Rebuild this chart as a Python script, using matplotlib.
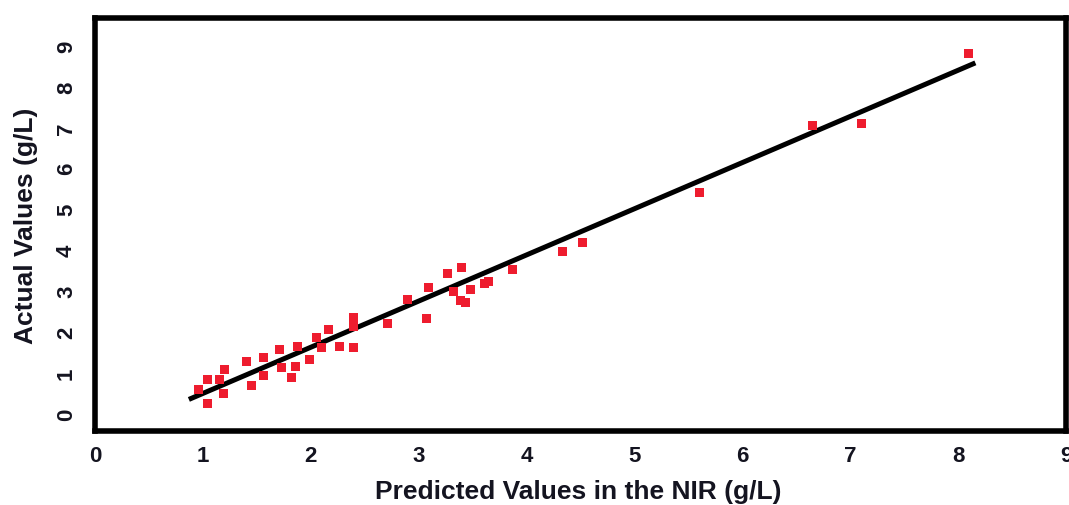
import matplotlib
matplotlib.use("Agg")
import matplotlib.pyplot as plt
import numpy as np

# Data
predicted = [0.96, 1.04, 1.04, 1.15, 1.20, 1.19, 1.40, 1.45, 1.56, 1.56,
             1.71, 1.73, 1.82, 1.88, 1.86, 1.99, 2.05, 2.10, 2.16, 2.27,
             2.40, 2.40, 2.40, 2.71, 2.90, 3.07, 3.09, 3.27, 3.40, 3.32,
             3.39, 3.43, 3.48, 3.61, 3.65, 3.87, 4.33, 4.52, 5.60, 6.65,
             7.10, 8.10]
actual = [0.61, 0.86, 0.27, 0.86, 1.10, 0.51, 1.30, 0.71, 1.39, 0.95,
          1.59, 1.15, 0.90, 1.66, 1.17, 1.34, 1.88, 1.64, 2.08, 1.66,
          2.37, 2.15, 1.64, 2.22, 2.81, 2.36, 3.10, 3.46, 3.59, 3.00,
          2.80, 2.75, 3.06, 3.20, 3.25, 3.55, 3.98, 4.21, 5.44, 7.07,
          7.12, 8.84]

fit_slope = 1.129
fit_intercept = -0.61
fit_x = [0.87, 8.16]

x_ticks = list(range(0, 10))
y_ticks = list(range(0, 10))

xlabel = "Predicted Values in the NIR (g/L)"
ylabel = "Actual Values (g/L)"

text_color = "#141420"
font = "Liberation Sans"

fig = plt.figure(figsize=(10.69, 5.05), dpi=100)
ax = fig.add_axes([95 / 1069, 1 - 431 / 505, (1066 - 95) / 1069, (431 - 18) / 505])

fx = np.array(fit_x)
ax.plot(fx, fit_intercept + fit_slope * fx, color="black", lw=3.6,
        solid_capstyle="butt", zorder=2)
ax.scatter(predicted, actual, marker="s", s=42, color="#ee1c2e",
           edgecolors="none", zorder=3)

ax.set_xlim(0, 9)
ax.set_ylim(-0.4, 9.7)
ax.set_xticks(x_ticks)
ax.set_yticks(y_ticks)
ax.set_xticklabels([str(t) for t in x_ticks], fontsize=16, fontweight="bold",
                   family=font, color=text_color)
ax.set_yticklabels([str(t) for t in y_ticks], fontsize=16, fontweight="bold",
                   family=font, color=text_color, rotation=90, va="center")
ax.tick_params(axis="both", length=0)
ax.tick_params(axis="x", pad=11)
ax.tick_params(axis="y", pad=13)

for sp in ax.spines.values():
    sp.set_linewidth(4.0)
    sp.set_color("black")

ax.set_xlabel(xlabel, fontsize=19, fontweight="bold", family=font,
              color=text_color, va="center")
ax.xaxis.set_label_coords((578 - 95) / 971, (431 - 492) / 413)
ax.set_ylabel(ylabel, fontsize=19, fontweight="bold", family=font,
              color=text_color, va="center")
ax.yaxis.set_label_coords((26 - 95) / 971, (431 - 226) / 413)

fig.savefig("out.png", dpi=100)
